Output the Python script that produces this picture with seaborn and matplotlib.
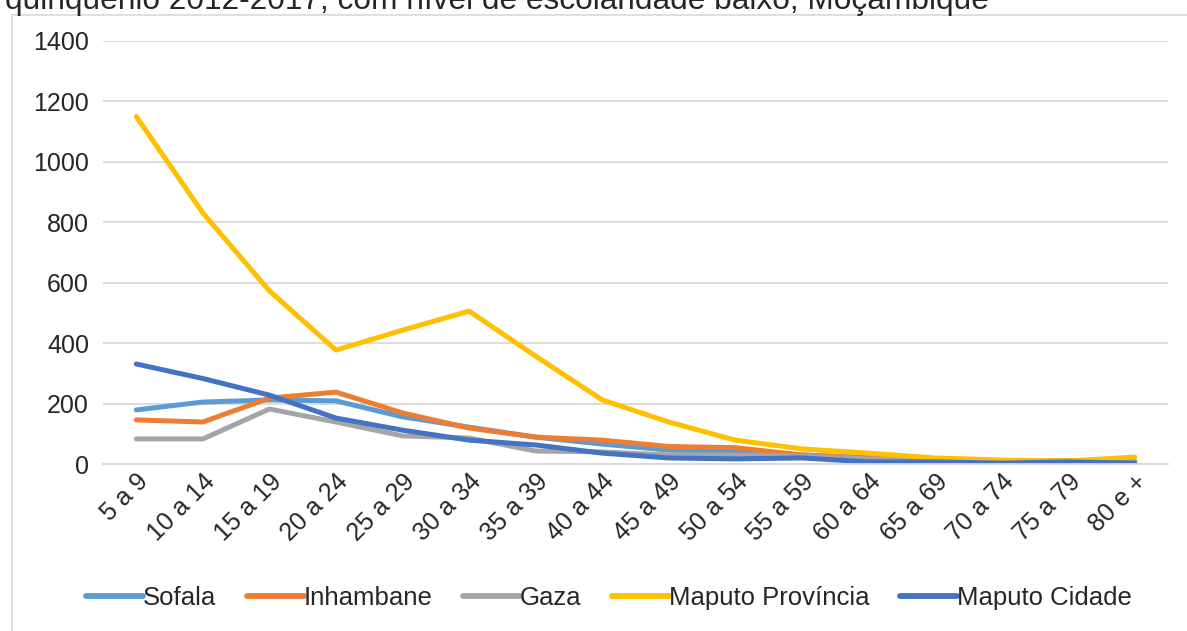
import numpy as np
import pandas as pd
import seaborn as sns
import matplotlib as mpl
import matplotlib.pyplot as plt
from matplotlib.patches import Rectangle

mpl.use('Agg')

idades = ['5 a 9', '10 a 14', '15 a 19', '20 a 24', '25 a 29', '30 a 34', '35 a 39',
          '40 a 44', '45 a 49', '50 a 54', '55 a 59', '60 a 64', '65 a 69', '70 a 74',
          '75 a 79', '80 e +']

sofala = [179, 205, 212, 209, 156, 122, 89, 66, 46, 40, 30, 20, 13, 10, 10, 7]
inhambane = [146, 139, 218, 238, 169, 119, 89, 79, 58, 54, 30, 20, 13, 10, 10, 7]
gaza = [83, 83, 182, 139, 93, 86, 43, 40, 30, 30, 26, 17, 13, 10, 10, 10]
maputo_prov = [1150, 831, 573, 377, 443, 506, 357, 212, 139, 79, 50, 36, 20, 13, 10, 23]
maputo_cid = [331, 283, 228, 152, 112, 79, 63, 36, 20, 17, 20, 7, 7, 3, 7, 3]

series = {'Sofala': sofala, 'Inhambane': inhambane, 'Gaza': gaza,
          'Maputo Província': maputo_prov, 'Maputo Cidade': maputo_cid}
cores = ['#5B9BD5', '#ED7D31', '#A5A5A5', '#FFC000', '#4472C4']

rows = []
for nome, vals in series.items():
    for i, v in enumerate(vals):
        rows.append({'pos': i, 'valor': v, 'provincia': nome})
df = pd.DataFrame(rows)

sns.set_style('white')
plt.rcParams['font.family'] = ['Liberation Sans', 'DejaVu Sans']

fig = plt.figure(figsize=(11.87, 6.31), dpi=100)
ax = fig.add_axes([103 / 1187, 1 - 464 / 631, (1168 - 103) / 1187, (464 - 41) / 631])

sns.lineplot(data=df, x='pos', y='valor', hue='provincia', palette=cores,
             linewidth=3.6, ax=ax, legend=True)

ax.set_xlim(-0.5, 15.5)
ax.set_ylim(0, 1400)
ax.set_yticks(range(0, 1401, 200))
ax.set_xticks(range(len(idades)))
ax.set_xticklabels(idades, rotation=45, ha='right', rotation_mode='anchor', fontsize=18)
ax.tick_params(axis='y', labelsize=18, length=0, pad=10)
ax.tick_params(axis='x', length=0, pad=4)
ax.yaxis.grid(True, color='#D9D9D9', linewidth=1.3)
ax.set_axisbelow(True)
for s in ['top', 'right', 'left']:
    ax.spines[s].set_visible(False)
ax.spines['bottom'].set_color('#D9D9D9')
ax.spines['bottom'].set_linewidth(1.3)
ax.set_xlabel('')
ax.set_ylabel('')

ax.legend(loc='center', bbox_to_anchor=(0.513, 1 - 598 / 631), bbox_transform=fig.transFigure,
          ncol=5, frameon=False, fontsize=18.5, handlelength=2.2, handletextpad=0.0,
          columnspacing=1.2)
for ln in ax.get_legend().get_lines():
    ln.set_linewidth(4.2)

fig.patches.append(Rectangle((12 / 1187, -0.05), 1.2, 1 - 15 / 631 + 0.05,
                             transform=fig.transFigure, fill=False,
                             edgecolor='#D9D9D9', linewidth=1.2))

fig.text(5 / 1187, 1 - 9 / 631, 'quinquénio 2012-2017, com nível de escolaridade baixo, Moçambique',
         fontsize=22.8, va='baseline', ha='left')

fig.savefig('out.png', dpi=100)
